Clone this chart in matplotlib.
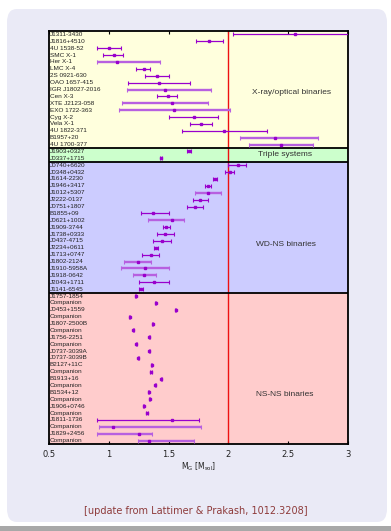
import matplotlib
matplotlib.use("Agg")
import matplotlib.pyplot as plt
from matplotlib.patches import FancyBboxPatch, Rectangle

# pulsar / neutron star names, top to bottom
names = [
    "J1311-3430", "J1816+4510", "4U 1538-52", "SMC X-1", "Her X-1", "LMC X-4",
    "2S 0921-630", "OAO 1657-415", "IGR J18027-2016", "Cen X-3", "XTE J2123-058",
    "EXO 1722-363", "Cyg X-2", "Vela X-1", "4U 1822-371", "B1957+20", "4U 1700-377",
    "J1903+0327", "J0337+1715",
    "J0740+6620", "J0348+0432", "J1614-2230", "J1946+3417", "J1012+5307",
    "J2222-0137", "J0751+1807", "B1855+09", "J0621+1002", "J1909-3744",
    "J1738+0333", "J0437-4715", "J2234+0611", "J1713+0747", "J1802-2124",
    "J1910-5958A", "J1918-0642", "J2043+1711", "J1141-6545",
    "J1757-1854", "Companion", "J0453+1559", "Companion", "J1807-2500B",
    "Companion", "J1756-2251", "Companion", "J0737-3039A", "J0737-3039B",
    "B2127+11C", "Companion", "B1913+16", "Companion", "B1534+12", "Companion",
    "J1906+0746", "Companion", "J1811-1736", "Companion", "J1829+2456", "Companion",
]

# central mass and lower / upper limits [M_sol]
mass = [
    2.56, 1.84, 1.00, 1.04, 1.07, 1.29, 1.40, 1.42, 1.47, 1.49, 1.53, 1.54,
    1.71, 1.77, 1.96, 2.39, 2.44,
    1.667, 1.435,
    2.08, 2.01, 1.89, 1.825, 1.83, 1.76, 1.72, 1.37, 1.53, 1.48, 1.47, 1.44,
    1.393, 1.35, 1.24, 1.30, 1.29, 1.38, 1.268,
    1.226, 1.393, 1.557, 1.174, 1.365, 1.203, 1.337, 1.228, 1.337, 1.245,
    1.357, 1.354, 1.438, 1.387, 1.332, 1.343, 1.29, 1.32, 1.53, 1.036, 1.25, 1.337,
]
low = [
    2.04, 1.73, 0.90, 0.95, 0.90, 1.23, 1.30, 1.16, 1.15, 1.40, 1.11, 1.08,
    1.50, 1.68, 1.61, 2.10, 2.17,
    1.649, 1.430,
    2.00, 1.97, 1.872, 1.80, 1.72, 1.70, 1.65, 1.27, 1.33, 1.45, 1.40, 1.37,
    1.378, 1.28, 1.13, 1.10, 1.20, 1.25, 1.253,
    1.222, 1.389, 1.553, 1.170, 1.361, 1.199, 1.333, 1.224, 1.333, 1.241,
    1.350, 1.347, 1.434, 1.383, 1.328, 1.339, 1.283, 1.313, 0.90, 0.92, 0.90, 1.24,
]
high = [
    3.10, 1.95, 1.10, 1.12, 1.43, 1.34, 1.50, 1.68, 1.85, 1.57, 1.83, 2.01,
    1.91, 1.86, 2.32, 2.75, 2.71,
    1.686, 1.440,
    2.15, 2.05, 1.906, 1.85, 1.94, 1.83, 1.79, 1.50, 1.63, 1.51, 1.54, 1.52,
    1.408, 1.42, 1.35, 1.50, 1.39, 1.50, 1.283,
    1.230, 1.397, 1.561, 1.178, 1.369, 1.207, 1.341, 1.232, 1.341, 1.249,
    1.364, 1.361, 1.442, 1.391, 1.336, 1.347, 1.297, 1.327, 1.75, 1.77, 1.36, 1.71,
]

groups = ["X-ray/optical binaries", "Triple systems", "WD-NS binaries", "NS-NS binaries"]
group_size = [17, 2, 19, 22]
group_color = ["#FFFFDD", "#CCFFCC", "#CCCCFF", "#FFCCCC"]

# rows drawn with the paler, thicker bar
pale_rows = [4, 8, 10, 11, 15, 16, 23, 27, 33, 34, 35, 57, 58, 59]

W, H = 391, 531
fig = plt.figure(figsize=(W / 100, H / 100), dpi=100)
fig.patch.set_facecolor("white")

# beamer block background
fig.patches.append(FancyBboxPatch((7 / W, 9 / H), 380 / W, 513 / H,
                                  boxstyle="round,pad=0,rounding_size=0.025",
                                  transform=fig.transFigure, facecolor="#EAEAF6",
                                  edgecolor="none", zorder=-2))
fig.patches.append(Rectangle((0, 0), 1, 5 / H, transform=fig.transFigure,
                             facecolor="#A8A8A8", edgecolor="none", zorder=-1))

ax = fig.add_axes([49.2 / W, 1 - 444 / H, 298.8 / W, 413 / H])
n = len(names)
rows = list(range(n))

start = 0
for g, size, col in zip(groups, group_size, group_color):
    ax.axhspan(start - 0.5, start + size - 0.5, color=col, zorder=0)
    if start > 0:
        ax.axhline(start - 0.5, color="black", lw=1.3, zorder=3)
    start += size

ax.axvline(2.0, color="#EE1111", lw=1.0, zorder=2)

for i in rows:
    pale = i in pale_rows
    ax.errorbar(mass[i], i, xerr=[[mass[i] - low[i]], [high[i] - mass[i]]],
                fmt="s", ms=1.6, color="#9900CC", mec="#9900CC",
                ecolor="#B760E0" if pale else "#9900CC",
                elinewidth=1.7 if pale else 0.9, capsize=1.2, capthick=0.8,
                zorder=4, clip_on=True)
    ax.text(0.503, i, names[i], fontsize=4.6, family="Liberation Sans",
            color="#222222", va="center", ha="left", zorder=5)

ax.text(2.53, 8.5, groups[0], fontsize=6, family="Liberation Sans", color="#333333",
        ha="center", va="center")
ax.text(2.47, 17.5, groups[1], fontsize=6, family="Liberation Sans", color="#333333",
        ha="center", va="center")
ax.text(2.48, 30.5, groups[2], fontsize=6, family="Liberation Sans", color="#333333",
        ha="center", va="center")
ax.text(2.47, 52.3, groups[3], fontsize=6, family="Liberation Sans", color="#333333",
        ha="center", va="center")

ax.set_xlim(0.5, 3.0)
ax.set_ylim(n - 0.5, -0.5)
ax.set_xticks([0.5, 1, 1.5, 2, 2.5, 3])
ax.set_xticklabels(["0.5", "1", "1.5", "2", "2.5", "3"])
ax.set_yticks([])
ax.tick_params(axis="x", direction="in", top=True, length=2.5, width=0.8,
               labelsize=6, pad=4, labelcolor="#222222")
for s in ax.spines.values():
    s.set_linewidth(1.3)

fig.text(198.5 / W, 1 - 467 / H, r"M$_\mathrm{G}$ [M$_\mathrm{sol}$]", fontsize=5.5,
         ha="center", va="center", color="#222222")

fig.text(196 / W, 1 - 511 / H, "[update from Lattimer & Prakash, 1012.3208]",
         fontsize=7, color="#8E3B3B", ha="center", va="center")

fig.savefig("out.png", dpi=100)
